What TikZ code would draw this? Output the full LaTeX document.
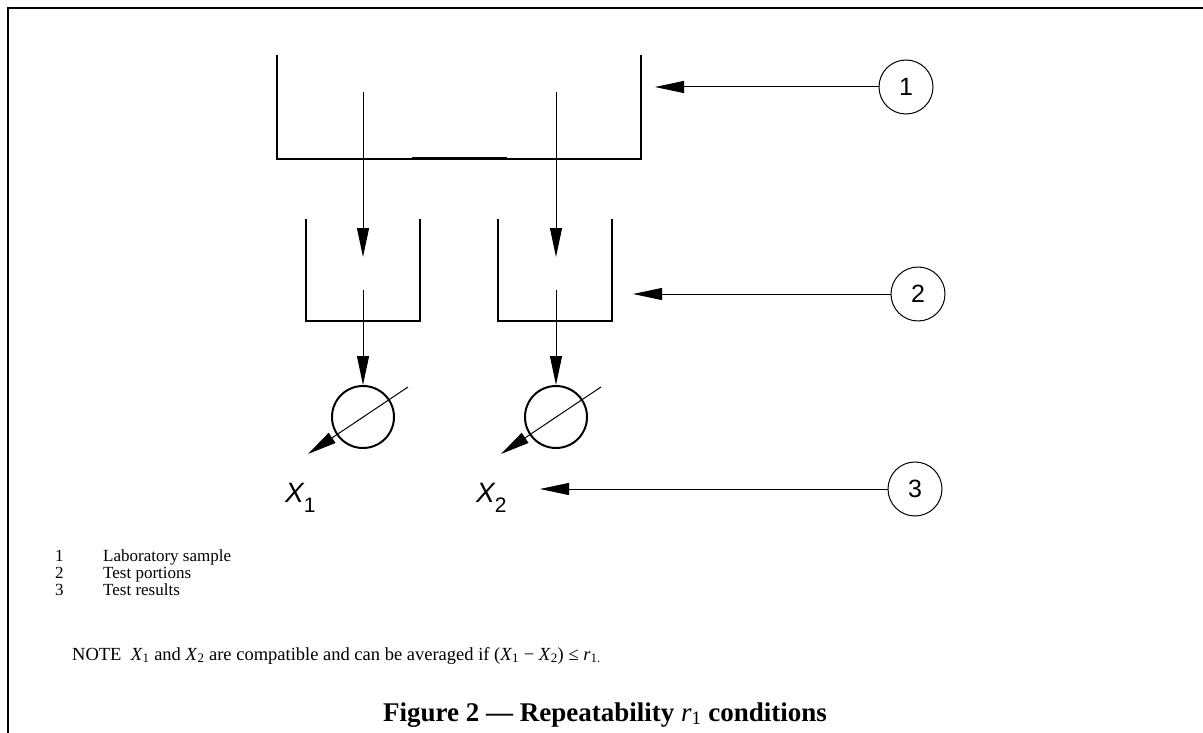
\documentclass[tikz,border=0pt]{standalone}
\usepackage{fontspec}
\setmainfont{Liberation Serif}
\newfontfamily\arialfont{Liberation Sans}
\usetikzlibrary{arrows.meta}

\begin{document}
\begin{tikzpicture}[x=1pt,y=-1pt,>={Triangle[length=29pt,width=12pt]},
    flow/.style={->,line width=1pt},
    vessel/.style={line width=2pt},
    callout/.style={circle,draw,line width=1pt,minimum size=54pt,inner sep=0pt,font=\arialfont\fontsize{25}{25}\selectfont},
    meter/.style={circle,draw,line width=2pt,minimum size=62pt,inner sep=0pt},
    result/.style={anchor=base west,inner sep=0pt,font=\arialfont\fontsize{28}{28}\selectfont},
    item/.style={anchor=base west,inner sep=0pt,font=\fontsize{17}{17}\selectfont}]

    \useasboundingbox (0,0) rectangle (1203,733);
    \draw[line width=2pt] (8,733) -- (8,8) -- (1203,8);

    % laboratory sample and test portions
    \draw[vessel] (277,55) -- (277,159) -- (641,159) -- (641,55);
    \draw[line width=3pt] (412,159) -- (507,159);
    \draw[vessel] (306,219) -- (306,321) -- (420,321) -- (420,219);
    \draw[vessel] (498,219) -- (498,321) -- (612,321) -- (612,219);

    \coordinate (s1) at (363,92);
    \coordinate (s2) at (556,92);
    \coordinate (p1) at (363,257);
    \coordinate (p2) at (556,257);
    \coordinate (q1) at (363,290);
    \coordinate (q2) at (556,290);

    \node[meter] (m1) at (363,417) {};
    \node[meter] (m2) at (556,417) {};

    \draw[flow] (s1) -- (p1);
    \draw[flow] (s2) -- (p2);
    \draw[flow] (q1) -- (m1);
    \draw[flow] (q2) -- (m2);
    \draw[flow] ([shift={(45,-30)}]m1.center) -- ([shift={(-55,37)}]m1.center);
    \draw[flow] ([shift={(45,-30)}]m2.center) -- ([shift={(-55,37)}]m2.center);

    \node[result] (x1) at (285,502) {\itshape X\upshape\raisebox{-10pt}{\fontsize{21}{21}\selectfont 1}};
    \node[result] (x2) at (476,502) {\itshape X\upshape\raisebox{-10pt}{\fontsize{21}{21}\selectfont 2}};

    % key numbers
    \node[callout] (1) at (906,87) {1};
    \node[callout] (2) at (918,294) {2};
    \node[callout] (3) at (915,489) {3};
    \coordinate (a1) at (655,87);
    \coordinate (a2) at (633,294);
    \coordinate (a3) at (540,489);
    \draw[flow] (1) -- (a1);
    \draw[flow] (2) -- (a2);
    \draw[flow] (3) -- (a3);

    % key
    \node[item] (k1) at (55,561) {1};
    \node[item] (l1) at (103,561) {Laboratory sample};
    \node[item] (k2) at (55,578) {2};
    \node[item] (l2) at (103,578) {Test portions};
    \node[item] (k3) at (55,595) {3};
    \node[item] (l3) at (103,595) {Test results};

    \node[item,font=\fontsize{18.5}{18.5}\selectfont] (note) at (72,660) {NOTE\ \ \textit{X}\textsubscript{1} and \textit{X}\textsubscript{2} are compatible and can be averaged if (\textit{X}\textsubscript{1}~−~\textit{X}\textsubscript{2})~≤~\textit{r}\textsubscript{1.}};

    \node[anchor=base,inner sep=0pt,font=\bfseries\fontsize{27}{27}\selectfont] (caption) at (605,721) {Figure 2 — Repeatability {\mdseries\itshape r}\textsubscript{\mdseries 1} conditions};
\end{tikzpicture}
\end{document}
